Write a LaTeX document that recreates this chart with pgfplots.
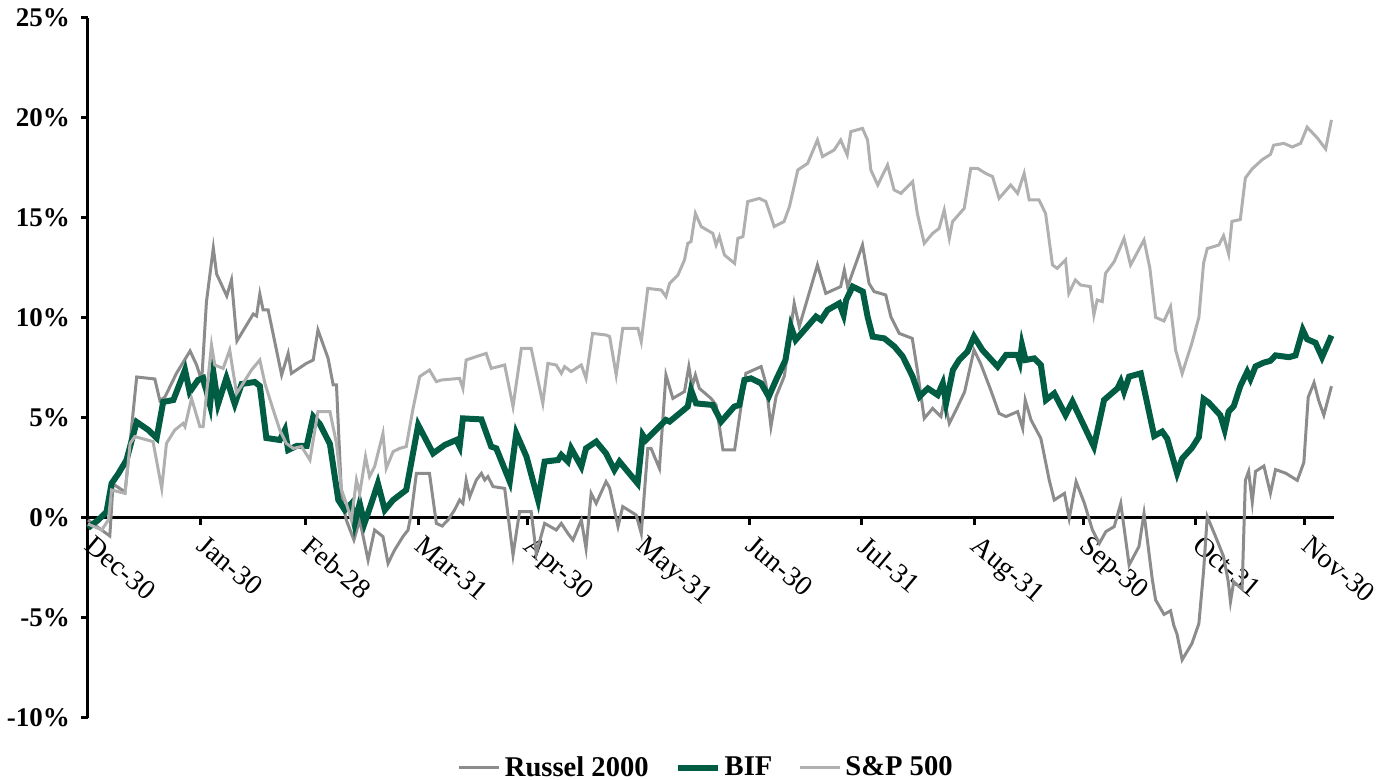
\documentclass[border=0pt]{standalone}
\usepackage{pgfplots}
\pgfplotsset{compat=1.18}
\usepackage{fontspec}
\setmainfont{Liberation Serif}
\definecolor{rusgray}{RGB}{140,140,140}
\definecolor{spgray}{RGB}{176,176,176}
\definecolor{bifgreen}{RGB}{0,92,66}
\begin{document}
\begin{tikzpicture}
\begin{axis}[
  name=ax,
  scale only axis,
  width=623pt, height=350pt,
  xmin=0, xmax=343, ymin=-10, ymax=25,
  axis x line=middle, axis y line=left,
  axis line style={-, line width=1.5pt, black},
  hide obscured x ticks=false, hide obscured y ticks=false,
  xtick={0,31,60,91,121,152,182,213,244,274,305,335},
  xticklabels={Dec-30,Jan-30,Feb-28,Mar-31,Apr-30,May-31,Jun-30,Jul-31,Aug-31,Sep-30,Oct-31,Nov-30},
  ytick={-10,-5,0,5,10,15,20,25},
  yticklabels={-10\%,-5\%,0\%,5\%,10\%,15\%,20\%,25\%},
  xtick align=outside, ytick align=outside,
  major tick length=3.5pt,
  tick style={line width=1.5pt, black},
  xticklabel style={font=\fontsize{14}{16}\selectfont, rotate=-40, anchor=north west, inner sep=1pt, xshift=4.5pt},
  yticklabel style={font=\bfseries\fontsize{13.5}{16}\selectfont, xshift=-2pt},
  clip=false,
  legend columns=3,
  legend style={draw=none, at={(0.497,-0.0714)}, anchor=center, font=\bfseries\fontsize{14.3}{16}\selectfont,
    /tikz/every even column/.append style={column sep=11pt}},
  legend image code/.code={\draw[#1] (0pt,0pt) -- (20pt,0pt);},
]
\addplot[rusgray, line width=1.5pt] coordinates {
(0,-0.1)(3,-0.5)(6,-0.9)(6.9,1.7)(10.2,1.3)(13.4,7.05)(18.4,6.95)(19.8,5.86)(21.2,6.06)(24.4,7.25)
(28.1,8.35)(29.9,7.65)(31.3,6.85)(32.6,10.8)(34.5,13.5)(35.4,12.2)(38.2,11.1)(39.5,11.9)(41.0,8.85)(45.5,10.2)
(46.4,10.1)(47.3,11.2)(48.2,10.4)(49.6,10.4)(53.3,7.15)(55.1,8.23)(56.0,7.23)(60.1,7.73)(62.0,7.9)(63.3,9.4)
(66.1,7.98)(67.5,6.65)(68.4,6.65)(69.8,1.07)(71.1,-0.1)(73.2,-1.1)(74.8,-0.1)(77.1,-2.1)(78.9,-0.6)(81.2,-0.93)
(82.6,-2.27)(84.4,-1.6)(86.7,-0.93)(88.1,-0.6)(89.0,0.23)(90.4,2.23)(94.0,2.23)(95.9,-0.27)(97.5,-0.4)(99.1,-0.1)
(100.9,0.4)(102.3,0.9)(103.2,0.73)(104.1,1.9)(105.1,1.07)(106.9,1.9)(108.3,2.23)(109.2,1.9)(110.1,2.07)(111.5,1.57)
(114.7,1.48)(117.0,-1.85)(118.8,0.32)(122.0,0.32)(123.4,-1.77)(125.7,-0.27)(128.9,-0.6)(130.3,-0.27)(132.1,-0.77)(133.5,-1.1)
(135.8,-0.1)(137.1,-1.52)(138.5,1.23)(139.9,0.73)(142.6,1.82)(143.6,1.5)(145.9,-0.43)(147.2,0.57)(150.9,0.15)(152.3,-0.77)
(154.1,3.48)(155.0,3.48)(157.3,2.48)(159.1,7.15)(161.0,5.98)(164.2,6.32)(165.4,7.57)(166.3,6.57)(167.2,7.15)(168.3,6.48)
(171.5,5.98)(172.9,5.65)(174.8,3.4)(178.0,3.4)(181.1,7.23)(185.3,7.57)(186.6,6.73)(188.0,4.57)(189.4,6.07)(191.7,7.1)
(194.4,10.73)(195.8,9.57)(200.8,12.65)(203.1,11.23)(207.2,11.57)(208.2,12.4)(209.1,11.57)(213.2,13.65)(215.0,11.73)(216.4,11.32)
(219.6,11.15)(221.0,10.07)(223.3,9.23)(226.9,8.98)(228.3,7.4)(230.2,4.98)(232.5,5.48)(234.8,5.07)(235.7,5.9)(237.1,4.73)
(239.4,5.57)(241.3,6.3)(243.9,8.4)(245.7,7.73)(248.5,6.4)(250.8,5.23)(252.7,5.07)(255.9,5.32)(257.3,4.48)(258.0,5.9)
(259.6,4.9)(262.3,3.98)(264.6,1.9)(266.0,0.9)(268.8,1.23)(270.1,-0.02)(272.0,1.82)(274.3,0.73)(276.5,-0.6)(278.4,-1.27)
(280.2,-0.68)(282.5,-0.43)(284.3,0.73)(286.6,-2.35)(289.3,-1.43)(290.7,0.23)(293.0,-3.1)(293.9,-4.1)(296.2,-4.82)(298.0,-4.64)
(298.9,-5.37)(299.8,-5.82)(301.2,-7.09)(303.9,-6.27)(305.8,-5.28)(307.1,-2.65)(308.1,0.07)(310.4,-0.93)(312.6,-1.93)(313.9,-3.19)
(314.5,-4.19)(315.4,-3.19)(317.7,-3.56)(318.6,1.88)(319.5,2.33)(320.5,0.79)(321.4,2.33)(323.7,2.6)(325.5,1.24)(326.9,2.42)
(329.7,2.24)(332.9,1.88)(334.7,2.78)(335.9,6.04)(337.5,6.77)(338.8,5.86)(340.2,5.14)(342.3,6.59)
};
\addlegendentry{Russel 2000}
\addplot[bifgreen, line width=3pt] coordinates {
(0,-0.5)(2.8,-0.1)(5.1,0.3)(6.5,1.73)(8.3,2.2)(10.6,2.9)(13.4,4.8)(16.6,4.4)(18.9,4.0)(20.7,5.8)
(23.5,5.9)(26.7,7.4)(28.0,6.3)(30.3,6.9)(31.7,7.0)(33.6,5.65)(34.5,7.3)(35.8,5.7)(38.1,7.0)(40.4,5.7)
(42.3,6.7)(45.9,6.8)(47.3,6.6)(49.1,4.0)(52.8,3.9)(54.2,4.4)(55.1,3.4)(57.4,3.6)(60.2,3.6)(62.0,5.07)
(63.8,4.7)(66.6,3.7)(68.9,0.9)(70.7,0.4)(72.5,0.73)(73.4,-0.27)(74.8,0.73)(76.1,-0.27)(78.0,0.73)(79.8,1.73)
(81.7,0.4)(84.0,0.9)(87.6,1.4)(90.9,4.65)(95.0,3.23)(98.2,3.65)(101.4,3.9)(102.3,3.57)(103.2,4.98)(108.3,4.93)
(111.0,3.57)(112.4,3.48)(116.1,1.82)(117.9,4.23)(120.7,3.07)(123.9,0.9)(125.7,2.82)(129.4,2.9)(130.3,3.15)(132.1,2.82)
(133.0,3.48)(135.8,2.57)(137.1,3.48)(139.9,3.82)(142.6,3.23)(144.9,2.4)(146.3,2.82)(151.3,1.73)(152.7,4.15)(153.6,3.9)
(159.1,4.9)(160.1,4.82)(165.1,5.57)(166.0,6.4)(167.4,5.73)(172.0,5.65)(174.3,4.82)(177.9,5.57)(179.3,5.65)(180.7,6.9)
(182.5,6.98)(185.3,6.73)(187.4,6.07)(189.4,6.9)(192.0,7.9)(193.5,9.57)(194.8,8.9)(197.2,9.4)(200.4,10.07)(201.8,9.9)
(203.6,10.4)(206.8,10.73)(208.0,10.15)(208.7,10.9)(210.5,11.57)(213.3,11.32)(214.6,10.07)(216.0,9.07)(219.2,8.98)(222.0,8.57)
(224.3,8.07)(227.0,7.07)(228.9,6.07)(231.2,6.48)(233.9,6.15)(235.3,6.73)(236.2,5.73)(238.1,7.4)(239.8,7.9)(242.1,8.32)
(243.9,9.07)(246.2,8.4)(250.4,7.57)(252.7,8.15)(255.9,8.15)(256.5,7.82)(257.1,8.65)(258.1,7.9)(260.5,7.98)(262.3,7.65)
(263.7,5.9)(266.0,6.23)(269.1,5.15)(271.0,5.82)(276.9,3.57)(279.7,5.9)(283.4,6.48)(284.3,6.82)(285.2,6.32)(286.6,7.07)
(289.8,7.23)(291.5,5.8)(293.5,4.1)(295.7,4.32)(297.1,3.96)(299.8,2.24)(301.2,2.97)(303.9,3.51)(305.8,4.05)(307.1,5.95)
(308.5,5.77)(311.7,5.14)(312.9,4.41)(314.0,5.32)(315.4,5.59)(317.2,6.59)(319.1,7.31)(320.0,6.95)(321.4,7.58)(323.7,7.77)
(325.5,7.86)(326.9,8.13)(330.6,8.04)(332.4,8.13)(334.4,9.4)(335.6,8.94)(337.9,8.76)(339.7,8.04)(342.3,9.12)
};
\addlegendentry{BIF}
\addplot[spgray, line width=1.5pt] coordinates {
(0,-0.3)(3.8,-0.6)(5.6,-0.1)(6.5,1.4)(10.2,1.23)(11.6,3.73)(12.9,4.07)(17.9,3.82)(20.3,1.48)(21.6,3.73)
(23.9,4.4)(26.2,4.73)(26.7,4.57)(28.5,5.98)(30.8,4.57)(31.7,4.57)(34.0,8.65)(34.9,7.65)(37.2,7.48)(39.0,8.4)
(40.9,6.23)(42.7,6.73)(45.0,7.4)(47.3,7.9)(48.7,6.73)(51.0,5.4)(52.8,4.4)(54.6,3.73)(56.5,3.48)(58.8,3.57)
(61.1,2.9)(63.3,5.32)(66.6,5.32)(68.4,3.73)(69.8,1.4)(71.1,0.73)(72.5,-0.1)(73.9,1.9)(74.8,1.23)(76.4,3.07)
(77.5,2.07)(78.9,2.57)(81.2,4.23)(82.1,2.48)(84.0,3.32)(85.8,3.48)(87.6,3.57)(89.4,5.4)(91.3,7.07)(94.0,7.4)
(95.9,6.82)(97.3,6.9)(102.3,6.98)(103.2,6.48)(104.1,7.9)(109.6,8.23)(111.0,7.48)(114.7,7.65)(117.0,5.57)(119.3,8.48)
(122.0,8.48)(125.2,5.73)(126.6,7.73)(128.9,7.65)(130.3,7.23)(131.2,7.57)(133.0,7.32)(135.8,7.65)(137.1,6.98)(138.9,9.23)
(142.6,9.15)(143.6,9.07)(145.4,7.15)(147.2,9.48)(151.4,9.48)(152.3,8.82)(154.1,11.48)(157.8,11.4)(159.1,11.07)(160.1,11.73)
(162.4,12.15)(164.2,12.9)(165.1,13.73)(166.0,13.82)(167.2,15.23)(168.8,14.57)(172.0,14.23)(172.9,13.65)(173.8,14.07)(175.2,13.15)
(178.0,12.73)(178.9,13.98)(180.3,14.07)(181.6,15.82)(184.8,15.98)(186.6,15.82)(188.9,14.57)(191.6,14.82)(193.1,15.57)(195.4,17.4)
(198.1,17.73)(200.8,18.9)(202.2,18.07)(205.4,18.4)(207.2,18.9)(209.0,18.15)(210.0,19.32)(213.2,19.48)(214.6,18.9)(215.5,17.4)
(217.4,16.65)(220.1,17.65)(221.9,16.4)(223.8,16.23)(227.0,16.82)(228.3,15.23)(230.2,13.73)(232.5,14.23)(234.3,14.48)(235.7,15.4)
(237.1,13.98)(238.0,14.82)(241.2,15.48)(243.0,17.48)(244.9,17.48)(247.1,17.23)(249.0,17.07)(250.8,15.98)(254.0,16.65)(255.9,16.23)
(257.7,17.23)(259.1,15.9)(261.8,15.9)(263.6,15.23)(265.5,12.65)(266.8,12.48)(269.1,12.9)(270.0,11.23)(271.8,11.9)(273.2,11.65)
(275.9,11.57)(276.9,10.15)(277.8,10.9)(279.2,10.82)(280.1,12.23)(282.5,12.82)(285.2,13.98)(287.0,12.65)(290.7,13.9)(292.3,12.5)
(293.9,10.03)(296.2,9.85)(298.0,10.57)(299.4,8.4)(301.2,7.22)(303.9,8.76)(305.8,10.03)(307.1,12.75)(308.1,13.47)(311.3,13.65)
(312.6,14.11)(314.0,13.2)(314.9,14.83)(317.2,14.92)(318.6,17.0)(320.5,17.46)(323.2,17.91)(325.5,18.18)(326.4,18.64)(329.2,18.73)
(331.5,18.55)(333.8,18.73)(335.6,19.54)(338.4,19.0)(340.7,18.45)(342.3,19.9)
};
\addlegendentry{S\&P 500}
\end{axis}
\pgfresetboundingbox
\path[use as bounding box] ([shift={(-44pt,-31pt)}]ax.south west) rectangle ([shift={(27pt,9pt)}]ax.north east);
\end{tikzpicture}
\end{document}
